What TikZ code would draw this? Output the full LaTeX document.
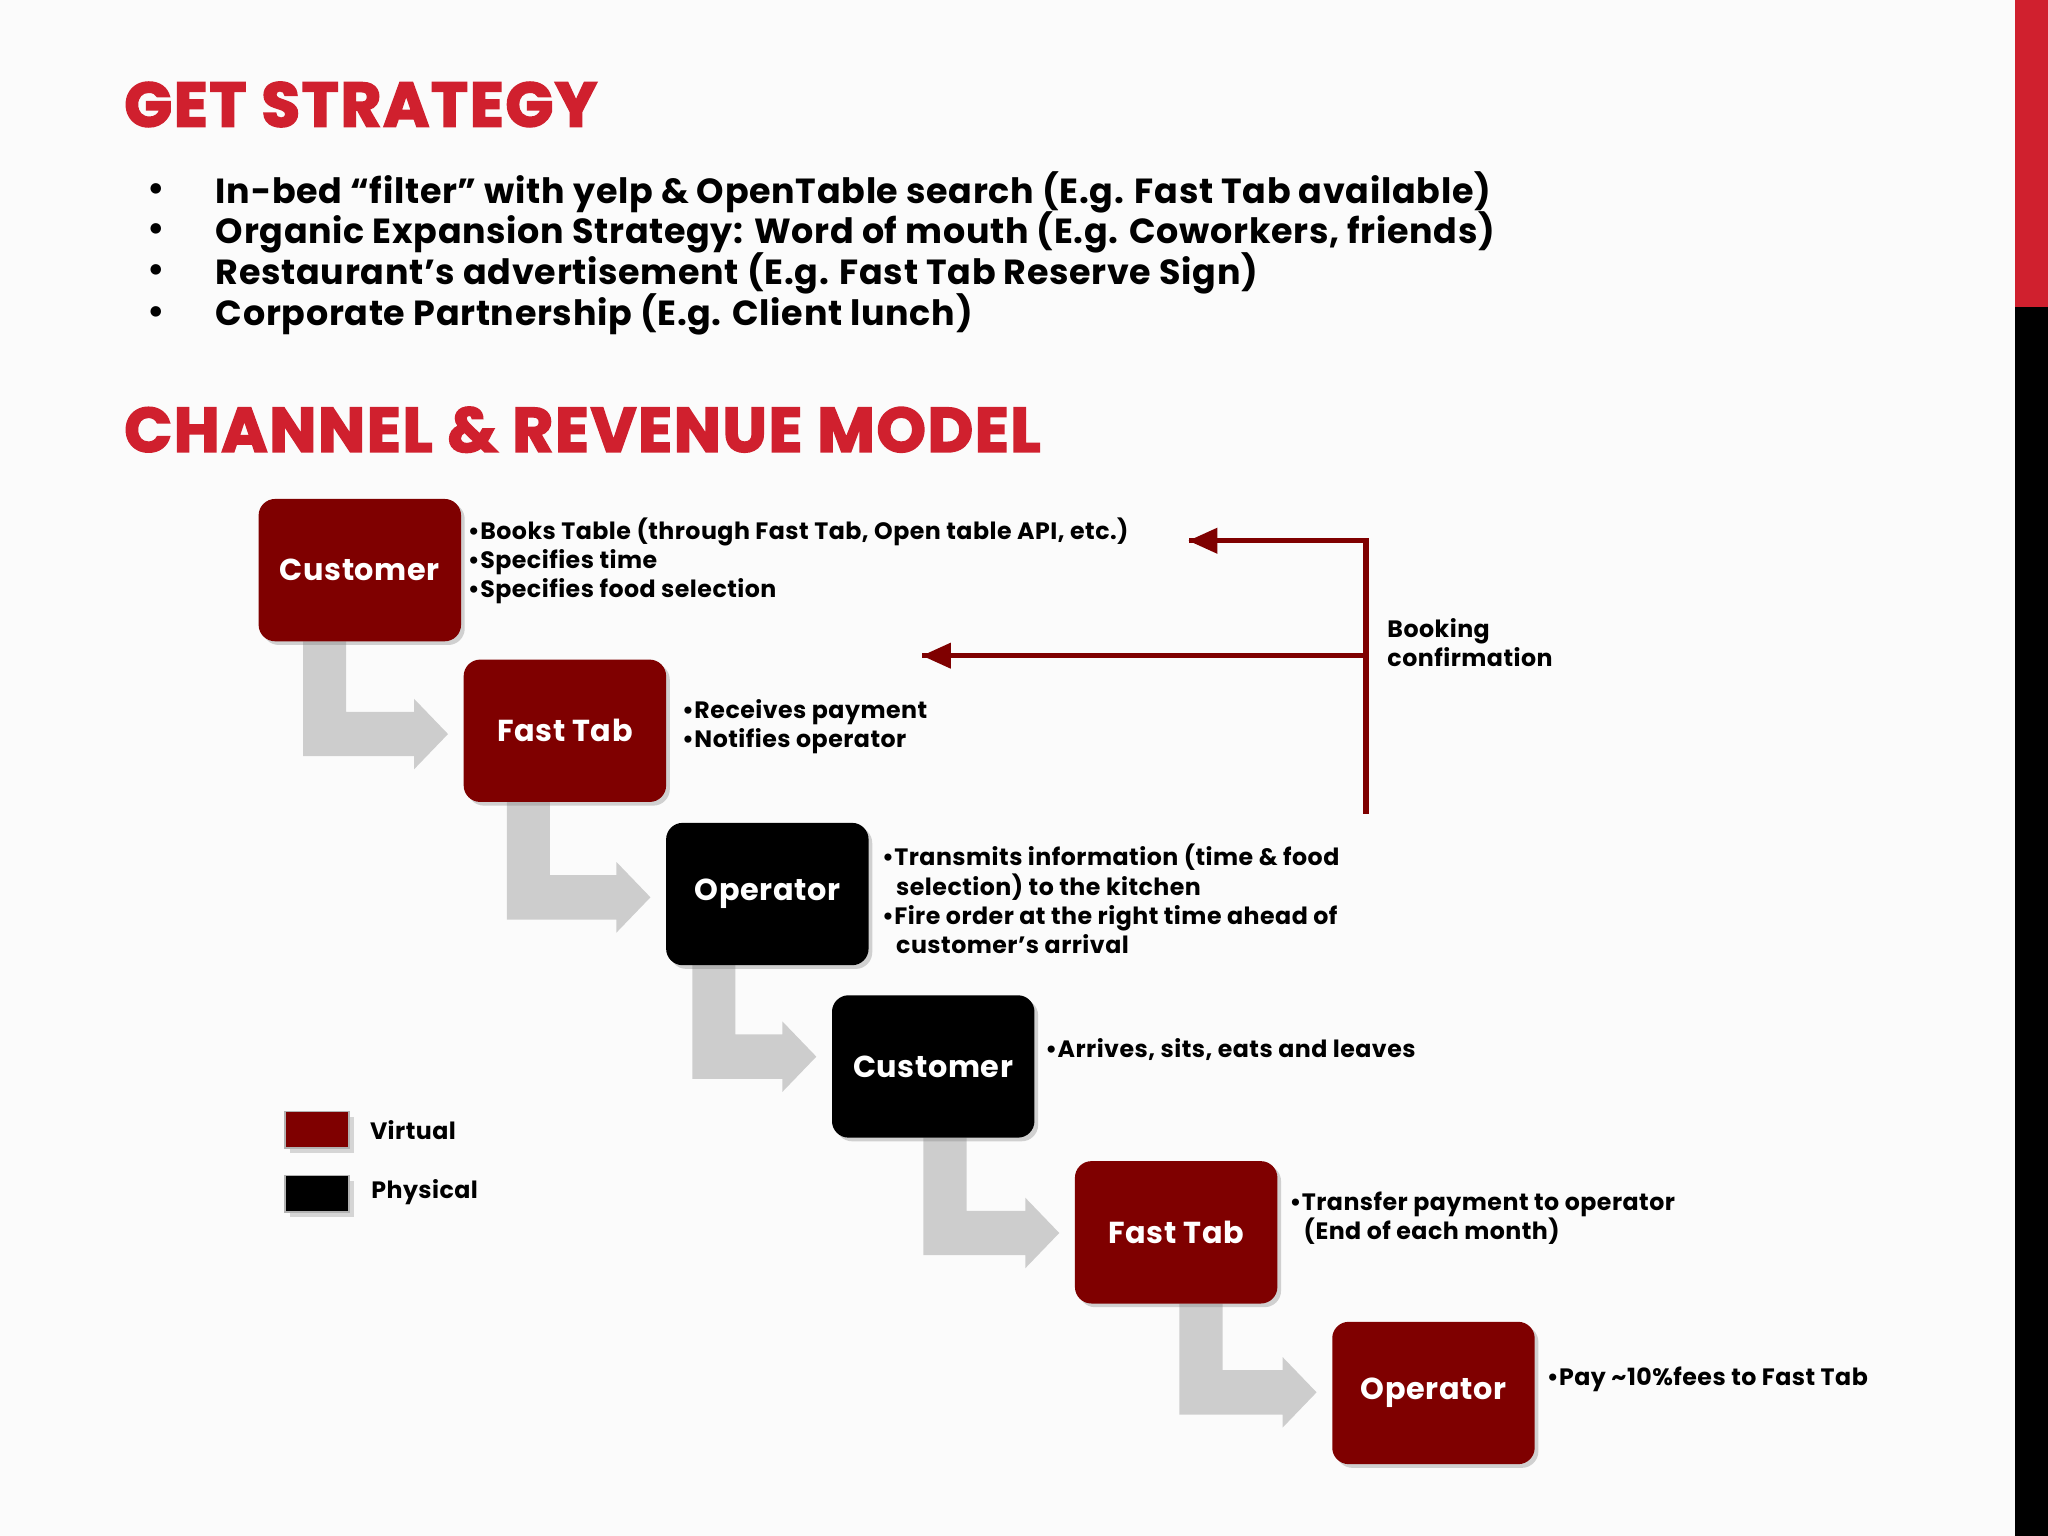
\documentclass[tikz,border=0pt]{standalone}
\usepackage{fontspec}
\setmainfont{Poppins}
\newfontfamily\heavy[BoldFeatures={FakeBold=3},LetterSpace=3]{Poppins}
\newfontfamily\spaced[LetterSpace=2]{Poppins}
\usetikzlibrary{shadows}
\definecolor{vred}{HTML}{7F0000}
\definecolor{hred}{HTML}{D0202E}
\definecolor{garrow}{HTML}{CDCDCD}
\begin{document}
\begin{tikzpicture}[x=0.025cm,y=-0.025cm,
  box/.style={rounded corners=9pt,minimum width=155*0.025cm,minimum height=109*0.025cm,text=white,font=\spaced\fontsize{16.5}{20}\selectfont\bfseries,drop shadow={shadow xshift=2pt,shadow yshift=-2pt,opacity=0.35}},
  vbox/.style={box,fill=vred},
  pbox/.style={box,fill=black},
  desc/.style={anchor=north west,font=\spaced\fontsize{12.9}{16}\selectfont\bfseries,align=left,inner sep=0pt},
  head/.style={anchor=west,font=\heavy\fontsize{34}{36}\selectfont\bfseries,text=hred,inner sep=0pt},
  blist/.style={anchor=west,font=\spaced\fontsize{19}{22}\selectfont\bfseries,inner sep=0pt},
  conf/.style={vred,line width=3pt}]
\useasboundingbox (0,0) rectangle (1568,1176);
\fill[white!97!gray] (0,0) rectangle (1543,1176);
\fill[hred] (1543,0) rectangle (1568,235);
\fill[black] (1543,235) rectangle (1568,1176);
\node[head] (h1) at (95,80) {GET STRATEGY};
\node[head] (h2) at (95,329) {CHANNEL \& REVENUE MODEL};
\foreach \y/\t in {147/{In-bed “filter” with yelp \& OpenTable search (E.g. Fast Tab available)},178/{Organic Expansion Strategy: Word of mouth (E.g. Coworkers, friends)},209/{Restaurant’s advertisement (E.g. Fast Tab Reserve Sign)},241/{Corporate Partnership (E.g. Client lunch)}}{
  \node[blist] at (113,\y) {•};
  \node[blist] at (165,\y) {\t};
}
% arrows: vertical left x, bottom, next box left, centre y
\foreach \V/\B/\Lb/\C in {232/491/355/560,388/614/510/685,530/739/637/807,707/871/823/942,903/998/1020/1064}{
  \fill[garrow] (\V,\B) -- (\V+33,\B) -- (\V+33,\C-15) -- (\Lb-38,\C-15) -- (\Lb-38,\C-25) -- (\Lb-12,\C+2) -- (\Lb-38,\C+29) -- (\Lb-38,\C+19) -- (\V,\C+19) -- cycle;
}
\node[vbox] (c1) at (275.5,436.5) {Customer};
\node[vbox] (f1) at (432.5,559.5) {Fast Tab};
\node[pbox] (o1) at (587.5,684.5) {Operator};
\node[pbox] (c2) at (714.5,816.5) {Customer};
\node[vbox] (f2) at (900.5,943.5) {Fast Tab};
\node[vbox] (o2) at (1097.5,1066.5) {Operator};
\node[desc] (d1) at (358,396) {•Books Table (through Fast Tab, Open table API, etc.)\\•Specifies time\\•Specifies food selection};
\node[desc] (d2) at (522,535) {•Receives payment\\•Notifies operator};
\node[desc] (d3) at (675,646) {•Transmits information (time \& food\\\hspace*{0.6em}selection) to the kitchen\\•Fire order at the right time ahead of\\\hspace*{0.6em}customer’s arrival};
\node[desc] (d4) at (800,795) {•Arrives, sits, eats and leaves};
\node[desc] (d5) at (987,912) {•Transfer payment to operator\\\hspace*{0.6em}(End of each month)};
\node[desc] (d6) at (1184,1046) {•Pay \textasciitilde10\%fees to Fast Tab};
% booking confirmation
\coordinate (b0) at (1046,623);
\coordinate (b1) at (1046,414);
\coordinate (b2) at (1046,502);
\coordinate (t1) at (910,414);
\coordinate (t2) at (706,502);
\draw[conf] (b0) -- (b1) -- (t1);
\fill[vred] (910,414) -- (932,404) -- (932,424) -- cycle;
\draw[conf] (b2) -- (t2);
\fill[vred] (706,502) -- (728,492) -- (728,512) -- cycle;
\node[desc] (bc) at (1062,473) {Booking\\confirmation};
% legend
\node[fill=vred,draw=gray!60,line width=1pt,minimum width=49*0.025cm,minimum height=28*0.025cm,drop shadow={opacity=0.3}] (lv) at (242.5,865) {};
\node[fill=black,draw=gray!60,line width=1pt,minimum width=49*0.025cm,minimum height=28*0.025cm,drop shadow={opacity=0.3}] (lp) at (242.5,914) {};
\node[desc,anchor=west] (lvt) at (283,865) {Virtual};
\node[desc,anchor=west] (lpt) at (284,913) {Physical};
\end{tikzpicture}
\end{document}
